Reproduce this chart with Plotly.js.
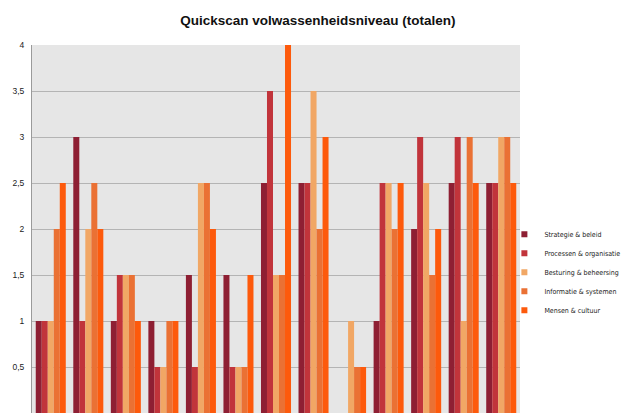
<!DOCTYPE html>
<html>
<head>
<meta charset="utf-8">
<script src="https://cdn.plot.ly/plotly-3.0.1.min.js"></script>
<style>html,body{margin:0;padding:0;background:#fff;}#chart{width:627px;height:414px;}</style>
</head>
<body>
<div id="chart"></div>
<script>
var categories = ["1","2","3","4","5","6","7","8","9","10","11","12","13"];
var seriesNames = ["Strategie & beleid","Processen & organisatie","Besturing & beheersing","Informatie & systemen","Mensen & cultuur"];
var strategie  = [1, 3, 1, 1, 1.5, 1.5, 2.5, 2.5, 0, 1, 2, 2.5, 2.5];
var processen  = [1, 1, 1.5, 0.5, 0.5, 0.5, 3.5, 2.5, 0, 2.5, 3, 3, 2.5];
var besturing  = [1, 2, 1.5, 0.5, 2.5, 0.5, 1.5, 3.5, 1, 2.5, 2.5, 1, 3];
var informatie = [2, 2.5, 1.5, 1, 2.5, 0.5, 1.5, 2, 0.5, 2, 1.5, 3, 3];
var mensen     = [2.5, 2, 1, 1, 2, 1.5, 4, 3, 0.5, 2.5, 2, 2.5, 2.5];
var yTickVals = [0, 0.5, 1, 1.5, 2, 2.5, 3, 3.5, 4];
var yTickText = ["0","0,5","1","1,5","2","2,5","3","3,5","4"];
var colors = ["#8e1f33", "#c1343b", "#f1a765", "#ea7134", "#fd5a0c"];

var seriesValues = [strategie, processen, besturing, informatie, mensen];
var traces = seriesValues.map(function(v, i){
  return {type:"bar", x:categories, y:v, name:seriesNames[i], showlegend:false,
    marker:{color:colors[i], line:{width:0}}};
});
// legend entries with small square keys
seriesNames.forEach(function(n, i){
  traces.push({type:"scatter", mode:"markers", x:[null], y:[null], name:n,
    marker:{symbol:"square", size:6, color:colors[i]}, showlegend:true});
});

var layout = {
  width:627, height:414,
  margin:{l:32, r:107, t:45, b:1, autoexpand:false},
  paper_bgcolor:"#ffffff",
  plot_bgcolor:"#e6e6e6",
  barmode:"group", bargap:0.2, bargroupgap:0,
  title:{text:"<b>Quickscan volwassenheidsniveau (totalen)</b>", x:0.507, xanchor:"center", y:0.95, yanchor:"middle",
    font:{family:"Liberation Sans, Arial, sans-serif", size:13.5, color:"#111"}},
  xaxis:{type:"category", showticklabels:false, showgrid:false, zeroline:false, showline:false, ticks:""},
  yaxis:{range:[0,4], tickvals:yTickVals, ticktext:yTickText, showgrid:true, gridcolor:"#b4b4b4", gridwidth:1,
    zeroline:false, showline:true, linecolor:"#9a9a9a", linewidth:1, ticks:"", ticklabelstandoff:5,
    tickfont:{family:"Liberation Sans, Arial, sans-serif", size:8.5, color:"#222"}},
  legend:{x:0.968, xanchor:"left", y:0.525, yanchor:"top", bgcolor:"rgba(0,0,0,0)", itemwidth:30,
    font:{family:"DejaVu Sans Condensed, sans-serif", size:7, color:"#222"}},
  showlegend:true
};
Plotly.newPlot("chart", traces, layout, {displayModeBar:false, staticPlot:true});
</script>
</body>
</html>
